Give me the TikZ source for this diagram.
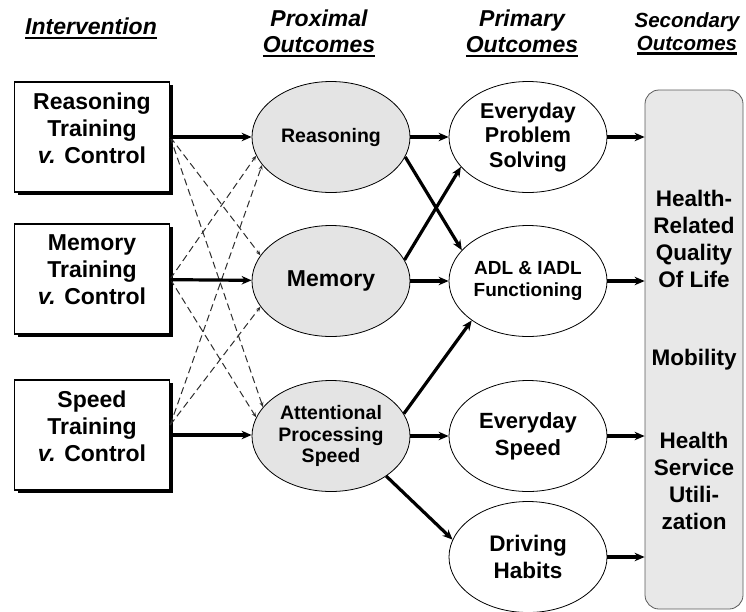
\documentclass[tikz,border=0pt]{standalone}
\usepackage{fontspec}
\setmainfont{Liberation Sans}
\usetikzlibrary{arrows.meta,shapes.geometric,shadows}
\definecolor{proxFill}{RGB}{228,228,228}
\definecolor{secFill}{RGB}{232,232,232}
\definecolor{secLine}{RGB}{90,90,90}
\definecolor{dashLine}{RGB}{45,45,45}
\newcommand{\ulhead}[1]{\setbox0\hbox{#1}\rlap{\rule[-4.5pt]{\wd0}{2.4pt}}\box0}

\begin{document}
\begin{tikzpicture}[x=1pt,y=-1pt,font=\bfseries,>={Stealth[length=10pt,width=8.5pt]},
  trt/.style={draw,line width=1.4pt,fill=white,minimum width=155pt,minimum height=110pt,
    drop shadow={shadow xshift=3pt,shadow yshift=-3pt,fill=black,opacity=1}},
  ttx/.style={align=center,inner sep=0pt,font=\fontsize{23}{27}\selectfont\bfseries},
  prox/.style={ellipse,draw,line width=0.8pt,fill=proxFill,minimum width=158pt,minimum height=111pt,
    inner sep=0pt,align=center,font=\fontsize{21}{25}\selectfont\bfseries},
  prim/.style={prox,fill=white},
  sec/.style={draw=secLine,fill=secFill,line width=0.8pt,rounded corners=14pt,minimum width=98pt,minimum height=519pt},
  stx/.style={align=center,inner sep=0pt,font=\fontsize{22.5}{27}\selectfont\bfseries},
  hd/.style={align=center,inner sep=0pt,anchor=north,font=\fontsize{23}{26}\selectfont\bfseries\itshape},
  fl/.style={->,line width=3.2pt},
  tr/.style={-{Stealth[length=5pt,width=4pt]},dashLine,line width=1pt,dash pattern=on 7pt off 4pt}]
\useasboundingbox (0,0) rectangle (746,611);

% column heads
\node[hd] (hInt) at (91,18) {\ulhead{Intervention}};
\node[hd] (hProx) at (319,10) {Proximal\\\ulhead{Outcomes}};
\node[hd] (hPrim) at (522,10) {Primary\\\ulhead{Outcomes}};
\node[hd,font=\fontsize{20.5}{23}\selectfont\bfseries\itshape] (hSec) at (687,12) {Secondary\\\ulhead{Outcomes}};

% training arms
\node[trt] (rsnB) at (92,137) {};
\node[ttx] (rsnT) at ([yshift=9pt]rsnB.center) {Reasoning\\Training\\\emph{v.} Control};
\node[trt] (memB) at (92,279) {};
\node[ttx] (memT) at ([yshift=9pt]memB.center) {Memory\\Training\\\emph{v.} Control};
\node[trt] (spdB) at (92,435) {};
\node[ttx] (spdT) at ([yshift=9pt]spdB.center) {Speed\\Training\\\emph{v.} Control};

% proximal outcomes
\node[prox,font=\fontsize{19.5}{22}\selectfont\bfseries] (rsnE) at (331,137) {Reasoning};
\node[prox,font=\fontsize{23}{26}\selectfont\bfseries] (memE) at (331,281) {Memory};
\node[prox,font=\fontsize{19.5}{21.5}\selectfont\bfseries] (attE) at (331,436) {Attentional\\Processing\\Speed};

% primary outcomes
\node[prim,font=\fontsize{21.5}{24.5}\selectfont\bfseries] (epsE) at (528,137) {Everyday\\Problem\\Solving};
\node[prim,font=\fontsize{19}{22}\selectfont\bfseries] (adlE) at (528,281) {ADL \& IADL\\Functioning};
\node[prim,font=\fontsize{22}{27}\selectfont\bfseries] (evsE) at (528,436) {Everyday\\Speed};
\node[prim,font=\fontsize{22.5}{27}\selectfont\bfseries] (drvE) at (528,557) {Driving\\Habits};

% secondary outcomes
\node[sec] (sec) at (694,349.5) {};
\node[stx] (hrq) at (694,239) {Health-\\Related\\Quality\\Of Life};
\node[stx] (mob) at (694,360) {Mobility};
\node[stx] (hsu) at (694,481) {Health\\Service\\Utili-\\zation};

% transfer paths
\draw[tr] (rsnB.east) -- (memE.160);
\draw[tr] (rsnB.east) -- (attE.157);
\draw[tr] (memB.east) -- (rsnE.194);
\draw[tr] (memB.east) -- (attE.166);
\draw[tr] ([yshift=10pt]spdB.east) -- (rsnE.202);
\draw[tr] ([yshift=10pt]spdB.east) -- (memE.200);

% direct effects
\draw[fl] (rsnB) -- (rsnE);
\draw[fl] (memB) -- (memE);
\draw[fl] (spdB.east) -- (spdB.east -| attE.west);
\draw[fl] (rsnE) -- (epsE);
\draw[fl] (memE) -- (adlE);
\draw[fl] (attE) -- (evsE);
\draw[fl] (rsnE.345) -- (adlE.155);
\draw[fl] (memE.16) -- (epsE.204);
\draw[fl] (attE.17) -- (adlE.215);
\draw[fl] (attE.324) -- (drvE.167);
\foreach \n in {epsE,adlE,evsE,drvE}
  \draw[fl] (\n) -- (\n -| sec.west);
\end{tikzpicture}
\end{document}
